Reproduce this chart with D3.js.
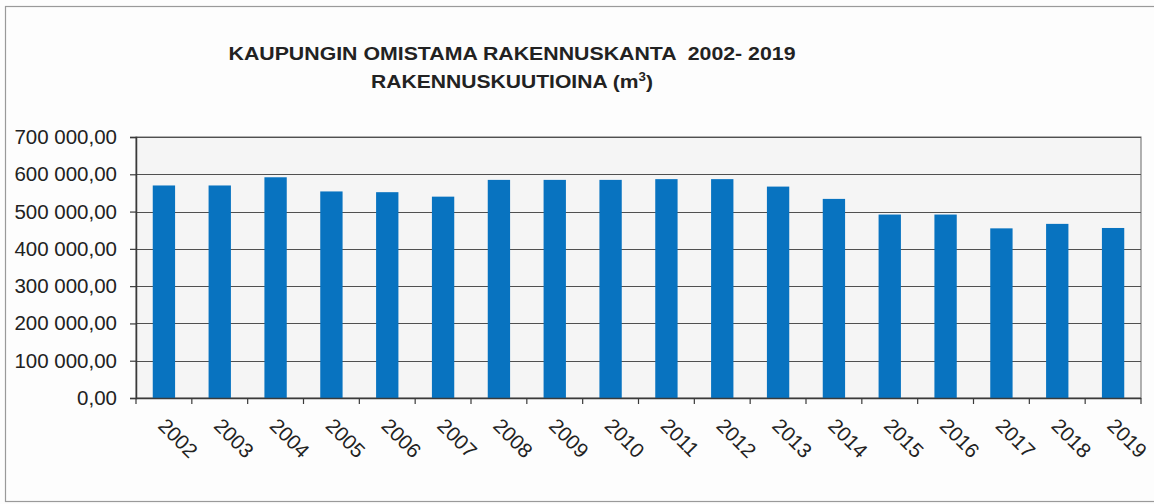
<!DOCTYPE html>
<html>
<head>
<meta charset="utf-8">
<script src="https://cdn.jsdelivr.net/npm/d3@7"></script>
<style>
  html, body { margin: 0; padding: 0; background: #fdfdfd; }
  svg { display: block; font-family: "Liberation Sans", Arial, sans-serif; }
</style>
</head>
<body>
<svg id="chart" width="1154" height="504"></svg>
<script>
const years = ["2002","2003","2004","2005","2006","2007","2008","2009","2010","2011","2012","2013","2014","2015","2016","2017","2018","2019"];
const volumes = [570000, 570000, 592000, 554000, 552000, 540000, 585000, 585000, 585000, 587000, 587000, 567000, 534000, 492000, 492000, 455000, 467000, 456000];
const yTicks = [0, 100000, 200000, 300000, 400000, 500000, 600000, 700000];
const titleLines = ["KAUPUNGIN OMISTAMA RAKENNUSKANTA  2002- 2019", "RAKENNUSKUUTIOINA (m"];

const svg = d3.select("#chart");
const W = 1154, H = 504;
const m = { left: 136, right: 1141, top: 137, bottom: 398 };

// outer frame
svg.append("rect").attr("x", 5.5).attr("y", 6.5).attr("width", W + 10).attr("height", 495)
  .attr("fill", "#fdfdfd").attr("stroke", "#9a9a9a").attr("stroke-width", 1.2);

const x = d3.scaleBand().domain(years).range([m.left, m.right]).paddingInner(0.6).paddingOuter(0.3);
const y = d3.scaleLinear().domain([0, 700000]).range([m.bottom, m.top]);

// plot background
svg.append("rect").attr("x", m.left).attr("y", m.top)
  .attr("width", m.right - m.left).attr("height", m.bottom - m.top)
  .attr("fill", "#f5f5f5").attr("stroke", "#666").attr("stroke-width", 1);

// gridlines
svg.append("g").selectAll("line").data(yTicks).join("line")
  .attr("x1", m.left).attr("x2", m.right)
  .attr("y1", d => Math.round(y(d)) + 0.5).attr("y2", d => Math.round(y(d)) + 0.5)
  .attr("stroke", "#505050").attr("stroke-width", 1.2);

// bars
svg.append("g").selectAll("rect").data(volumes).join("rect")
  .attr("x", (d, i) => x(years[i]))
  .attr("width", x.bandwidth())
  .attr("y", d => y(d))
  .attr("height", d => y(0) - y(d))
  .attr("fill", "#0873c0");

// y axis
const fmt = v => d3.format(",.2f")(v).replace(/,/g, " ").replace(".", ",");
const yAxis = d3.axisLeft(y).tickValues(yTicks).tickSize(6).tickPadding(13).tickFormat(fmt);
const gy = svg.append("g").attr("transform", `translate(${m.left},0)`).call(yAxis);
gy.select(".domain").attr("stroke", "#3a3a3a").attr("stroke-width", 1.5);
gy.selectAll(".tick line").attr("stroke", "#3a3a3a").attr("stroke-width", 1.2);
gy.selectAll(".tick text").attr("fill", "#222").style("font-size", "20.5px")
  .style("font-family", "'Liberation Sans', Arial, sans-serif");

// x axis: ticks at category boundaries
const gx = svg.append("g");
gx.append("line").attr("x1", m.left).attr("x2", m.right)
  .attr("y1", m.bottom + 0.5).attr("y2", m.bottom + 0.5)
  .attr("stroke", "#3a3a3a").attr("stroke-width", 1.5);
const boundaryVals = d3.range(years.length + 1);
const xb = d3.scaleLinear().domain([0, years.length]).range([m.left, m.right]);
gx.selectAll("line.tk").data(boundaryVals).join("line").attr("class", "tk")
  .attr("x1", d => xb(d)).attr("x2", d => xb(d))
  .attr("y1", m.bottom).attr("y2", m.bottom + 6)
  .attr("stroke", "#3a3a3a").attr("stroke-width", 1.2);

gx.selectAll("text").data(years).join("text")
  .attr("transform", d => `translate(${x(d) + x.bandwidth() / 2 - 7},${m.bottom + 29}) rotate(45)`)
  .attr("text-anchor", "start")
  .attr("fill", "#222")
  .style("font-size", "20.5px")
  .text(d => d);

// title
svg.append("text").attr("x", 512).attr("y", 60).attr("text-anchor", "middle")
  .attr("fill", "#222").style("font-size", "19px").style("font-weight", "bold")
  .style("white-space", "pre").attr("xml:space", "preserve")
  .attr("textLength", 567).attr("lengthAdjust", "spacingAndGlyphs")
  .text(titleLines[0]);
const t2 = svg.append("text").attr("transform", "translate(512,88) scale(1.11,1)")
  .attr("text-anchor", "middle")
  .attr("fill", "#222").style("font-size", "19px").style("font-weight", "bold");
t2.append("tspan").text(titleLines[1]);
t2.append("tspan").attr("dy", -7).style("font-size", "12px").text("3");
t2.append("tspan").attr("dy", 7).text(")");
</script>
</body>
</html>
